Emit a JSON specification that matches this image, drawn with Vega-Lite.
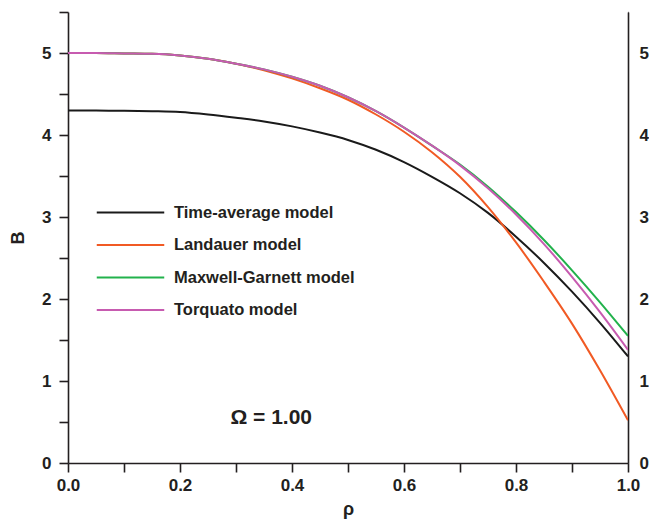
{
  "$schema": "https://vega.github.io/schema/vega-lite/v6.json",
  "width": 560,
  "height": 451,
  "autosize": {"type": "none"},
  "padding": {"left": 68, "top": 12, "right": 21, "bottom": 58},
  "background": "white",
  "config": {
    "view": {"stroke": null},
    "font": "Liberation Sans",
    "axis": {
      "grid": false,
      "domainColor": "#231f20",
      "domainWidth": 1.6,
      "tickColor": "#231f20",
      "tickWidth": 1.6,
      "labelFont": "Liberation Sans",
      "labelFontWeight": "bold",
      "labelFontSize": 17,
      "labelColor": "#231f20",
      "titleFont": "Liberation Sans",
      "titleFontWeight": "bold",
      "titleFontSize": 18,
      "titleColor": "#231f20"
    }
  },
  "datasets": {
    "curves": [
      {"rho": 0.0, "B": 4.30, "model": "Time-average model"},
      {"rho": 0.05, "B": 4.30, "model": "Time-average model"},
      {"rho": 0.1, "B": 4.295, "model": "Time-average model"},
      {"rho": 0.15, "B": 4.29, "model": "Time-average model"},
      {"rho": 0.2, "B": 4.28, "model": "Time-average model"},
      {"rho": 0.25, "B": 4.25, "model": "Time-average model"},
      {"rho": 0.3, "B": 4.21, "model": "Time-average model"},
      {"rho": 0.35, "B": 4.165, "model": "Time-average model"},
      {"rho": 0.4, "B": 4.105, "model": "Time-average model"},
      {"rho": 0.45, "B": 4.03, "model": "Time-average model"},
      {"rho": 0.5, "B": 3.94, "model": "Time-average model"},
      {"rho": 0.55, "B": 3.82, "model": "Time-average model"},
      {"rho": 0.6, "B": 3.67, "model": "Time-average model"},
      {"rho": 0.65, "B": 3.49, "model": "Time-average model"},
      {"rho": 0.7, "B": 3.29, "model": "Time-average model"},
      {"rho": 0.75, "B": 3.05, "model": "Time-average model"},
      {"rho": 0.8, "B": 2.76, "model": "Time-average model"},
      {"rho": 0.85, "B": 2.44, "model": "Time-average model"},
      {"rho": 0.9, "B": 2.09, "model": "Time-average model"},
      {"rho": 0.95, "B": 1.71, "model": "Time-average model"},
      {"rho": 1.0, "B": 1.30, "model": "Time-average model"},

      {"rho": 0.0, "B": 5.00, "model": "Landauer model"},
      {"rho": 0.05, "B": 5.00, "model": "Landauer model"},
      {"rho": 0.1, "B": 4.995, "model": "Landauer model"},
      {"rho": 0.15, "B": 4.99, "model": "Landauer model"},
      {"rho": 0.2, "B": 4.97, "model": "Landauer model"},
      {"rho": 0.25, "B": 4.93, "model": "Landauer model"},
      {"rho": 0.3, "B": 4.87, "model": "Landauer model"},
      {"rho": 0.35, "B": 4.79, "model": "Landauer model"},
      {"rho": 0.4, "B": 4.69, "model": "Landauer model"},
      {"rho": 0.45, "B": 4.57, "model": "Landauer model"},
      {"rho": 0.5, "B": 4.43, "model": "Landauer model"},
      {"rho": 0.55, "B": 4.25, "model": "Landauer model"},
      {"rho": 0.6, "B": 4.04, "model": "Landauer model"},
      {"rho": 0.65, "B": 3.79, "model": "Landauer model"},
      {"rho": 0.7, "B": 3.49, "model": "Landauer model"},
      {"rho": 0.75, "B": 3.12, "model": "Landauer model"},
      {"rho": 0.8, "B": 2.69, "model": "Landauer model"},
      {"rho": 0.85, "B": 2.21, "model": "Landauer model"},
      {"rho": 0.9, "B": 1.70, "model": "Landauer model"},
      {"rho": 0.95, "B": 1.13, "model": "Landauer model"},
      {"rho": 1.0, "B": 0.52, "model": "Landauer model"},

      {"rho": 0.0, "B": 5.00, "model": "Maxwell-Garnett model"},
      {"rho": 0.05, "B": 5.00, "model": "Maxwell-Garnett model"},
      {"rho": 0.1, "B": 4.995, "model": "Maxwell-Garnett model"},
      {"rho": 0.15, "B": 4.99, "model": "Maxwell-Garnett model"},
      {"rho": 0.2, "B": 4.97, "model": "Maxwell-Garnett model"},
      {"rho": 0.25, "B": 4.93, "model": "Maxwell-Garnett model"},
      {"rho": 0.3, "B": 4.87, "model": "Maxwell-Garnett model"},
      {"rho": 0.35, "B": 4.80, "model": "Maxwell-Garnett model"},
      {"rho": 0.4, "B": 4.71, "model": "Maxwell-Garnett model"},
      {"rho": 0.45, "B": 4.60, "model": "Maxwell-Garnett model"},
      {"rho": 0.5, "B": 4.46, "model": "Maxwell-Garnett model"},
      {"rho": 0.55, "B": 4.29, "model": "Maxwell-Garnett model"},
      {"rho": 0.6, "B": 4.09, "model": "Maxwell-Garnett model"},
      {"rho": 0.65, "B": 3.87, "model": "Maxwell-Garnett model"},
      {"rho": 0.7, "B": 3.64, "model": "Maxwell-Garnett model"},
      {"rho": 0.75, "B": 3.37, "model": "Maxwell-Garnett model"},
      {"rho": 0.8, "B": 3.06, "model": "Maxwell-Garnett model"},
      {"rho": 0.85, "B": 2.72, "model": "Maxwell-Garnett model"},
      {"rho": 0.9, "B": 2.35, "model": "Maxwell-Garnett model"},
      {"rho": 0.95, "B": 1.96, "model": "Maxwell-Garnett model"},
      {"rho": 1.0, "B": 1.55, "model": "Maxwell-Garnett model"},

      {"rho": 0.0, "B": 5.00, "model": "Torquato model"},
      {"rho": 0.05, "B": 5.00, "model": "Torquato model"},
      {"rho": 0.1, "B": 4.995, "model": "Torquato model"},
      {"rho": 0.15, "B": 4.99, "model": "Torquato model"},
      {"rho": 0.2, "B": 4.97, "model": "Torquato model"},
      {"rho": 0.25, "B": 4.93, "model": "Torquato model"},
      {"rho": 0.3, "B": 4.87, "model": "Torquato model"},
      {"rho": 0.35, "B": 4.80, "model": "Torquato model"},
      {"rho": 0.4, "B": 4.71, "model": "Torquato model"},
      {"rho": 0.45, "B": 4.60, "model": "Torquato model"},
      {"rho": 0.5, "B": 4.46, "model": "Torquato model"},
      {"rho": 0.55, "B": 4.29, "model": "Torquato model"},
      {"rho": 0.6, "B": 4.09, "model": "Torquato model"},
      {"rho": 0.65, "B": 3.87, "model": "Torquato model"},
      {"rho": 0.7, "B": 3.63, "model": "Torquato model"},
      {"rho": 0.75, "B": 3.35, "model": "Torquato model"},
      {"rho": 0.8, "B": 3.03, "model": "Torquato model"},
      {"rho": 0.85, "B": 2.67, "model": "Torquato model"},
      {"rho": 0.9, "B": 2.27, "model": "Torquato model"},
      {"rho": 0.95, "B": 1.84, "model": "Torquato model"},
      {"rho": 1.0, "B": 1.38, "model": "Torquato model"}
    ],
    "note": [{"rho": 0.29, "B": 0.55, "label": "Ω = 1.00"}]
  },
  "resolve": {"axis": {"y": "independent"}},
  "layer": [
    {
      "data": {"name": "curves"},
      "mark": {"type": "line", "strokeWidth": 2, "interpolate": "monotone", "clip": true},
      "encoding": {
        "x": {
          "field": "rho", "type": "quantitative",
          "scale": {"domain": [0, 1], "nice": false},
          "axis": {
            "orient": "bottom",
            "title": "ρ",
            "values": [0, 0.1, 0.2, 0.3, 0.4, 0.5, 0.6, 0.7, 0.8, 0.9, 1.0],
            "labelExpr": "round(datum.value * 10) % 2 === 0 ? format(datum.value, '.1f') : ''",
            "tickSize": 9,
            "encode": {"ticks": {"update": {"y2": {"signal": "round(datum.value * 10) % 2 === 0 ? 9 : 5"}}}},
            "labelPadding": 5,
            "titlePadding": 7,
            "labelFlush": false,
            "labelOverlap": false
          }
        },
        "y": {
          "field": "B", "type": "quantitative",
          "scale": {"domain": [0, 5.5], "nice": false, "zero": false},
          "axis": {
            "orient": "left",
            "title": "B",
            "values": [0, 0.5, 1, 1.5, 2, 2.5, 3, 3.5, 4, 4.5, 5, 5.5],
            "labelExpr": "datum.value % 1 === 0 ? format(datum.value, 'd') : ''",
            "tickSize": 9,
            "encode": {"ticks": {"update": {"x2": {"signal": "datum.value % 1 === 0 ? -9 : -5"}}}},
            "labelPadding": 8,
            "titlePadding": 14,
            "labelFlush": false,
            "labelOverlap": false
          }
        },
        "color": {
          "field": "model", "type": "nominal",
          "scale": {
            "domain": ["Time-average model", "Landauer model", "Maxwell-Garnett model", "Torquato model"],
            "range": ["#1a1a1a", "#f15a24", "#22b24c", "#c75bb0"]
          },
          "legend": {
            "orient": "none",
            "legendX": 50,
            "legendY": 188,
            "title": null,
            "symbolType": "M-3,0H3",
            "symbolSize": 506,
            "symbolStrokeWidth": 2,
            "labelFont": "Liberation Sans",
            "labelFontWeight": "bold",
            "labelFontSize": 16.5,
            "labelColor": "#231f20",
            "labelOffset": 31,
            "rowPadding": 11.5,
            "labelLimit": 300
          }
        }
      }
    },
    {
      "data": {"name": "note"},
      "mark": {"type": "text", "align": "left", "baseline": "middle", "fontSize": 21, "fontWeight": "bold", "font": "Liberation Sans", "color": "#231f20"},
      "encoding": {
        "x": {
          "field": "rho", "type": "quantitative",
          "axis": {
            "orient": "bottom",
            "title": "ρ",
            "values": [0, 0.1, 0.2, 0.3, 0.4, 0.5, 0.6, 0.7, 0.8, 0.9, 1.0],
            "labelExpr": "round(datum.value * 10) % 2 === 0 ? format(datum.value, '.1f') : ''",
            "tickSize": 9,
            "encode": {"ticks": {"update": {"y2": {"signal": "round(datum.value * 10) % 2 === 0 ? 9 : 5"}}}},
            "labelPadding": 5,
            "titlePadding": 7,
            "labelFlush": false,
            "labelOverlap": false
          }
        },
        "y": {
          "field": "B", "type": "quantitative",
          "axis": {
            "orient": "right",
            "title": null,
            "values": [0, 0.5, 1, 1.5, 2, 2.5, 3, 3.5, 4, 4.5, 5, 5.5],
            "labelExpr": "datum.value % 1 === 0 ? format(datum.value, 'd') : ''",
            "tickSize": 0.5,
            "encode": {"ticks": {"update": {"x2": {"signal": "datum.value % 1 === 0 ? -9 : -4"}}}},
            "labelPadding": 10.5,
            "labelFlush": false,
            "labelOverlap": false
          }
        },
        "text": {"field": "label"}
      }
    }
  ]
}
